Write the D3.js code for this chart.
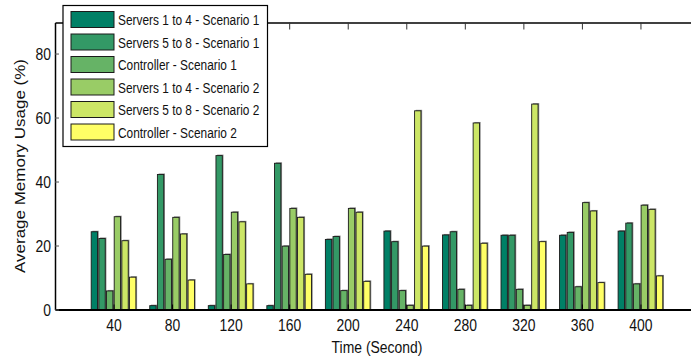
<!DOCTYPE html>
<html>
<head>
<meta charset="utf-8">
<script src="https://cdn.jsdelivr.net/npm/d3@7"></script>
<style>
	body { margin: 0; background: #fff; }
	svg { display: block; font-family: Arial, "Liberation Sans", sans-serif; }
</style>
</head>
<body>
<div id="graph"></div>
<script>
const times = [40, 80, 120, 160, 200, 240, 280, 320, 360, 400];
const seriesNames = [
	"Servers 1 to 4 - Scenario 1",
	"Servers 5 to 8 - Scenario 1",
	"Controller - Scenario 1",
	"Servers 1 to 4 - Scenario 2",
	"Servers 5 to 8 - Scenario 2",
	"Controller - Scenario 2"
];
const srv14Sc1 = [24.3, 1.2, 1.2, 1.2, 21.9, 24.5, 23.3, 23.2, 23.2, 24.5];
const srv58Sc1 = [22.2, 42.2, 48.1, 45.7, 22.8, 21.2, 24.3, 23.2, 24.1, 27.0];
const ctrlSc1 = [5.8, 15.7, 17.2, 19.8, 5.9, 5.9, 6.3, 6.3, 7.1, 8.0];
const srv14Sc2 = [29.0, 28.8, 30.4, 31.6, 31.6, 1.3, 1.3, 1.3, 33.4, 32.6];
const srv58Sc2 = [21.5, 23.6, 27.4, 28.8, 30.4, 62.1, 58.3, 64.2, 30.8, 31.3];
const ctrlSc2 = [10.1, 9.2, 8.0, 11.0, 8.8, 19.8, 20.7, 21.2, 8.4, 10.5];
const yTicks = [0, 20, 40, 60, 80];
const colors = ["#008066", "#339966", "#66b366", "#99cc66", "#cce666", "#ffff66"];

const seriesValues = [srv14Sc1, srv58Sc1, ctrlSc1, srv14Sc2, srv58Sc2, ctrlSc2];
const sx = 0.82; // the picture is squeezed sideways

const W = 691, H = 362;
const xScale = d3.scaleLinear().domain([0, 440]).range([55, 699]);
const yScale = d3.scaleLinear().domain([0, 89.7]).range([309.5, 22.5]);
const inner = d3.scaleBand().domain(d3.range(6)).range([-23, 23])
	.paddingInner(0.17).paddingOuter(0.085);

const svg = d3.select("#graph").append("svg")
	.attr("width", W).attr("height", H);

// bars
const rows = [];
times.forEach((t, gi) => {
	seriesValues.forEach((vals, si) => rows.push({t: t, s: si, v: vals[gi]}));
});

const bars = svg.append("g");
bars.selectAll("rect.shadow")
	.data(rows)
	.enter().append("rect")
	.attr("class", "shadow")
	.attr("x", d => xScale(d.t) + inner(d.s) + 1.2)
	.attr("y", d => yScale(d.v) - 1)
	.attr("width", inner.bandwidth())
	.attr("height", d => yScale(0) - yScale(d.v) + 1)
	.attr("fill", "#8c8c8c");

bars.selectAll("rect.bar")
	.data(rows)
	.enter().append("rect")
	.attr("class", "bar")
	.attr("x", d => xScale(d.t) + inner(d.s))
	.attr("y", d => yScale(d.v))
	.attr("width", inner.bandwidth())
	.attr("height", d => yScale(0) - yScale(d.v))
	.attr("fill", d => colors[d.s])
	.attr("stroke", "#1a1a1a")
	.attr("stroke-width", 0.9);

// axes
const xAxis = d3.axisBottom(xScale).tickValues(times).tickSize(-5).tickSizeOuter(0);
const gx = svg.append("g")
	.attr("transform", "translate(0," + yScale(0) + ")")
	.call(xAxis);
gx.select(".domain").attr("stroke", "#000").attr("stroke-width", 2);
gx.selectAll(".tick text")
	.attr("y", 22).attr("dy", 0)
	.attr("transform", "scale(" + sx + ",1)")
	.attr("font-size", 17).attr("fill", "#111")
	.attr("font-family", null);

const topAxis = d3.axisTop(xScale).tickValues(times).tickSize(-7).tickSizeOuter(0).tickFormat("");
const gt = svg.append("g")
	.attr("transform", "translate(0," + yScale.range()[1] + ")")
	.call(topAxis);
gt.select(".domain").attr("stroke", "#000").attr("stroke-width", 1.5);
gt.selectAll(".tick line").attr("stroke", "#333");

const yAxis = d3.axisLeft(yScale).tickValues(yTicks).tickSize(-4).tickSizeOuter(0);
const gy = svg.append("g")
	.attr("transform", "translate(" + xScale.range()[0] + ",0)")
	.call(yAxis);
gy.select(".domain").attr("stroke", "#000").attr("stroke-width", 1.5);
gy.selectAll(".tick line").attr("stroke", "#555");
gy.selectAll(".tick text")
	.attr("x", -4 / sx).attr("dy", "0.36em")
	.attr("transform", "scale(" + sx + ",1)")
	.attr("font-size", 17).attr("fill", "#111");

svg.selectAll(".tick text").attr("font-family", null);
svg.selectAll("g[font-family]").attr("font-family", null);

// axis titles
svg.append("text")
	.attr("transform", "translate(377,353) scale(" + sx + ",1)")
	.attr("text-anchor", "middle")
	.attr("font-size", 17).attr("fill", "#111")
	.text("Time (Second)");

svg.append("text")
	.attr("transform", "translate(24.5,166) scale(" + sx + ",1) rotate(-90)")
	.attr("text-anchor", "middle")
	.attr("font-size", 17).attr("fill", "#111")
	.text("Average Memory Usage (%)");

// legend
const legend = svg.append("g");
legend.append("rect")
	.attr("x", 63).attr("y", 5.5)
	.attr("width", 204.5).attr("height", 141)
	.attr("fill", "#fff").attr("stroke", "#000").attr("stroke-width", 1.2);

const items = legend.selectAll("g.item")
	.data(seriesNames)
	.enter().append("g")
	.attr("class", "item")
	.attr("transform", (d, i) => "translate(0," + (11.5 + i * 22.5) + ")");

items.append("rect")
	.attr("x", 71).attr("y", 0)
	.attr("width", 43).attr("height", 16)
	.attr("fill", (d, i) => colors[i])
	.attr("stroke", "#1a1a1a").attr("stroke-width", 1);

items.append("text")
	.attr("transform", "translate(118,13.5) scale(" + sx + ",1)")
	.attr("font-size", 14.5).attr("fill", "#111")
	.text(d => d);
</script>
</body>
</html>
